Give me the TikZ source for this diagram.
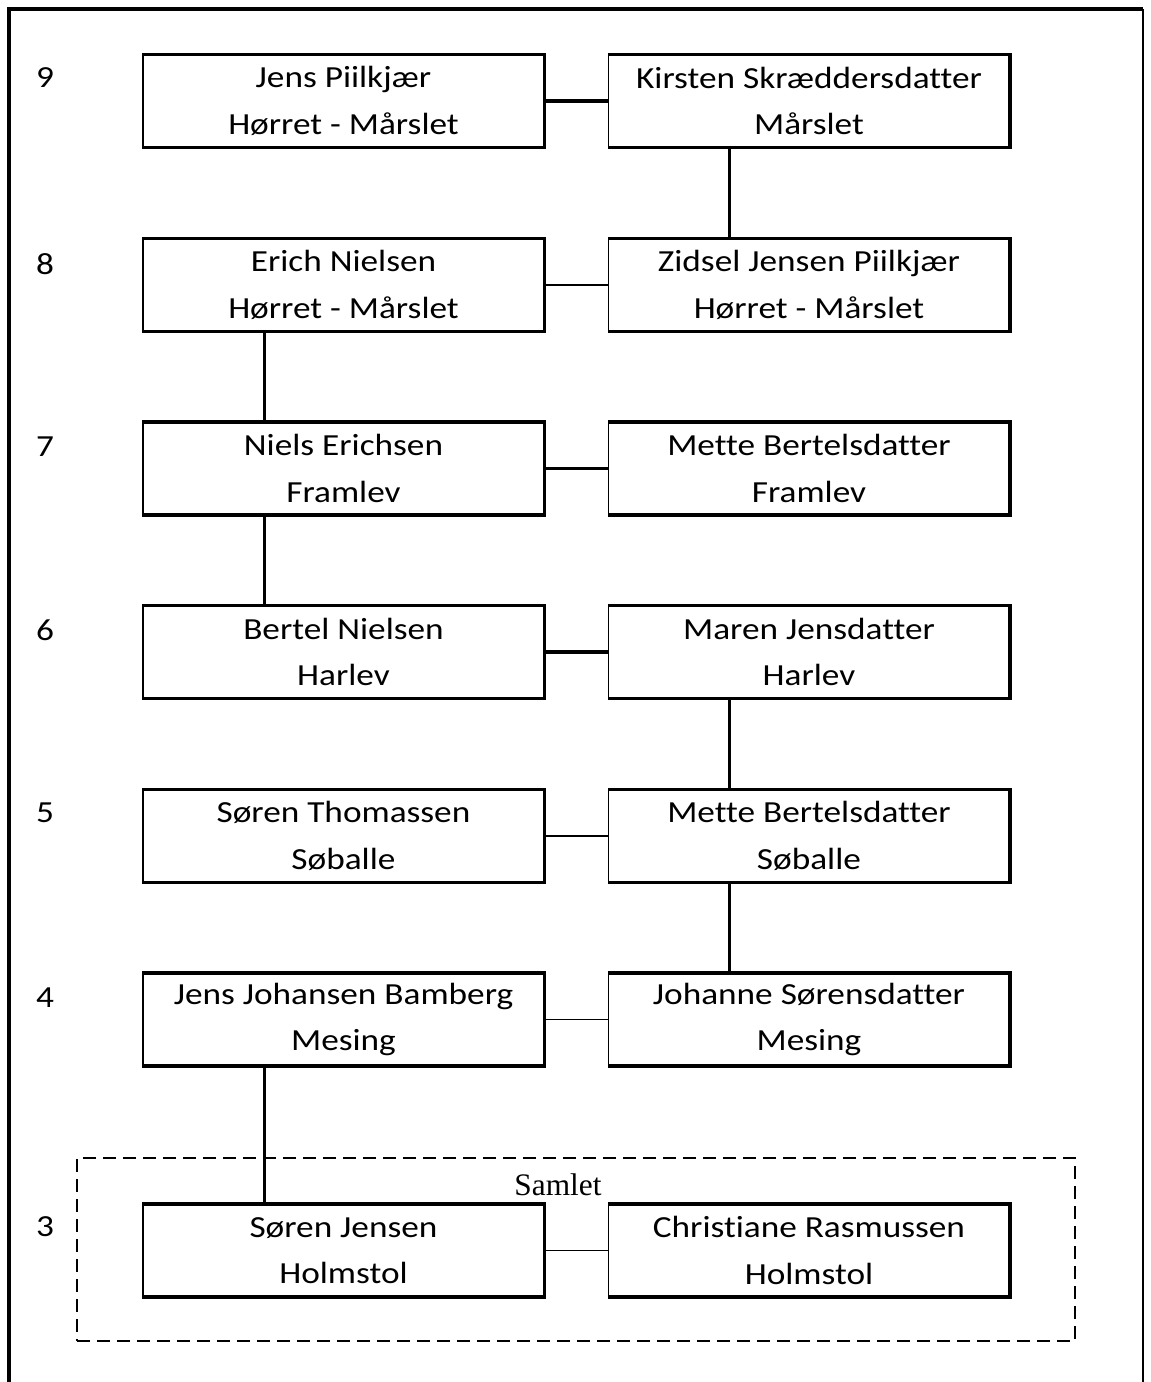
\documentclass[tikz,border=0pt]{standalone}
\usepackage{fontspec}
\setmainfont{Carlito}[FakeStretch=1.15, Ligatures=NoCommon]
\newfontfamily\timesf{Liberation Serif}
\usetikzlibrary{calc}
\begin{document}
\begin{tikzpicture}[x=0.75pt,y=-0.75pt,
  person/.style={draw, line width=0.9pt, minimum width=300.75pt, minimum height=69pt,
    inner sep=0pt, align=center, font=\fontsize{23}{35}\selectfont},
  num/.style={font=\fontsize{23}{28}\selectfont, inner sep=0pt},
  thickline/.style={line width=2.5pt},
  thinline/.style={line width=0.9pt},
  groupbox/.style={draw, line width=1pt, dash pattern=on 9.5pt off 5.5pt,
    minimum width=748.5pt, minimum height=137.25pt, inner sep=0pt}]
\useasboundingbox (0,0) rectangle (1150,1382);

% outer frame
\coordinate (fbl) at (9,1390);
\coordinate (ftl) at (9,9);
\coordinate (ftr) at (1143,9);
\coordinate (fbr) at (1143,1390);
\draw[line width=2.5pt] (fbl) -- (ftl) -- (ftr);
\draw[line width=1.1pt] (ftr) -- (fbr);

% dashed group
\node[groupbox] (group) at (576,1249.5) {};
\node[font=\timesf\fontsize{23.5}{28}\selectfont, inner sep=0pt] (samlet) at (558,1185) {Samlet};

% row numbers
\node[num] (n9) at (45,78) {9};
\node[num] (n8) at (45,264) {8};
\node[num] (n7) at (45,447) {7};
\node[num] (n6) at (45,630) {6};
\node[num] (n5) at (45,813) {5};
\node[num] (n4) at (45,998) {4};
\node[num] (n3) at (45,1227) {3};

% persons
\node[person] (p9L) at (343.5,101) {Jens Piilkjær\\Hørret - Mårslet};
\node[person] (p9R) at (809,101) {Kirsten Skræddersdatter\\Mårslet};
\node[person] (p8L) at (343.5,285) {Erich Nielsen\\Hørret - Mårslet};
\node[person] (p8R) at (809,285) {Zidsel Jensen Piilkjær\\Hørret - Mårslet};
\node[person] (p7L) at (343.5,468.5) {Niels Erichsen\\Framlev};
\node[person] (p7R) at (809,468.5) {Mette Bertelsdatter\\Framlev};
\node[person] (p6L) at (343.5,652) {Bertel Nielsen\\Harlev};
\node[person] (p6R) at (809,652) {Maren Jensdatter\\Harlev};
\node[person] (p5L) at (343.5,836) {Søren Thomassen\\Søballe};
\node[person] (p5R) at (809,836) {Mette Bertelsdatter\\Søballe};
\node[person] (p4L) at (343.5,1019.5) {Jens Johansen Bamberg\\Mesing};
\node[person] (p4R) at (809,1019.5) {Johanne Sørensdatter\\Mesing};
\node[person] (p3L) at (343.5,1250.5) {Søren Jensen\\Holmstol};
\node[person] (p3R) at (809,1250.5) {Christiane Rasmussen\\Holmstol};

% thick top/right/bottom edges
\foreach \p in {p9L,p9R,p8L,p8R,p7L,p7R,p6L,p6R,p5L,p5R,p4L,p4R,p3L,p3R}{
  \draw[thickline] (\p.north west) -- (\p.north east) -- (\p.south east) -- (\p.south west);
}

% couple connectors
\draw[thickline] (p9L.east) -- (p9R.west);
\draw[thinline] (p8L.east) -- (p8R.west);
\draw[thickline] (p7L.east) -- (p7R.west);
\draw[thickline] (p6L.east) -- (p6R.west);
\draw[thinline] (p5L.east) -- (p5R.west);
\draw[thinline] (p4L.east) -- (p4R.west);
\draw[thinline] (p3L.east) -- (p3R.west);

% descent connectors
\draw[thickline] ($(p9R.south west)!0.302!(p9R.south east)$) -- ($(p8R.north west)!0.302!(p8R.north east)$);
\draw[thickline] ($(p8L.south west)!0.304!(p8L.south east)$) -- ($(p7L.north west)!0.304!(p7L.north east)$);
\draw[thickline] ($(p7L.south west)!0.304!(p7L.south east)$) -- ($(p6L.north west)!0.304!(p6L.north east)$);
\draw[thickline] ($(p6R.south west)!0.302!(p6R.south east)$) -- ($(p5R.north west)!0.302!(p5R.north east)$);
\draw[thickline] ($(p5R.south west)!0.302!(p5R.south east)$) -- ($(p4R.north west)!0.302!(p4R.north east)$);
\draw[thickline] ($(p4L.south west)!0.304!(p4L.south east)$) -- ($(p3L.north west)!0.304!(p3L.north east)$);
\end{tikzpicture}
\end{document}
